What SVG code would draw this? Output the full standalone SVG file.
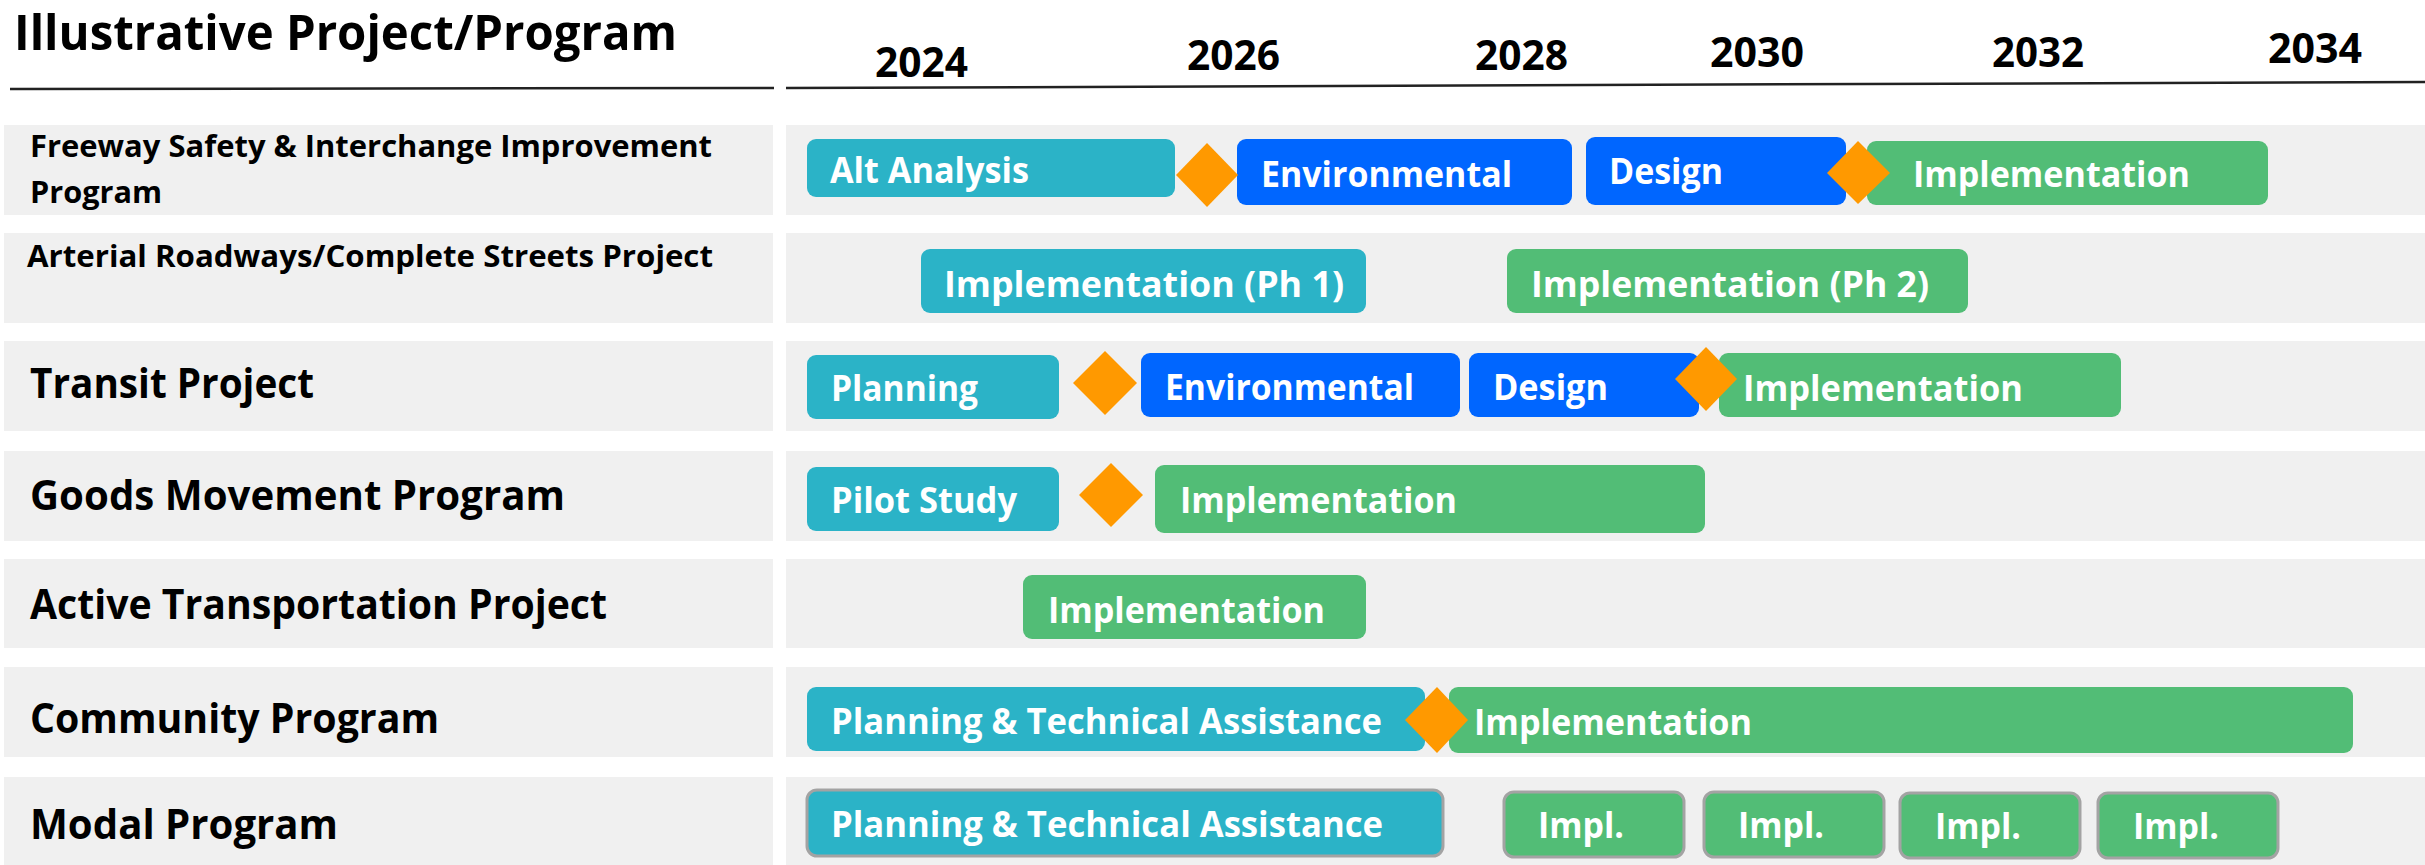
<svg xmlns="http://www.w3.org/2000/svg" width="2425" height="865" viewBox="0 0 2425 865">
<style>
  text { font-family: "Open Sans", "Liberation Sans", sans-serif; }
  .band { fill: #f0f0f0; }
  .title { font-size: 49px; font-weight: 700; fill: #000; }
  .lbl { font-size: 42px; font-weight: 700; fill: #000; }
  .lbls { font-size: 31px; font-weight: 700; fill: #000; }
  .yr { font-size: 42px; font-weight: 700; fill: #000; }
  .bt { font-size: 36px; font-weight: 700; fill: #fff; }
  .teal { fill: #2bb3c7; }
  .blue { fill: #0066ff; }
  .green { fill: #52bd76; }
  .ms { fill: #ff9900; }
  .edged { stroke: #a3a3a3; stroke-width: 3; }
  .rule { stroke: #222; stroke-width: 2.5; fill: none; }
</style>

<rect width="2425" height="865" fill="#ffffff"/>

<g id="header">
  <text class="title" x="14" y="50" textLength="663" lengthAdjust="spacingAndGlyphs">Illustrative Project/Program</text>
  <line class="rule" x1="10" y1="89" x2="774" y2="88"/>
  <line class="rule" x1="786" y1="88" x2="2425" y2="82"/>
  <text class="yr" x="875" y="77" textLength="93" lengthAdjust="spacingAndGlyphs">2024</text>
  <text class="yr" x="1187" y="70" textLength="93" lengthAdjust="spacingAndGlyphs">2026</text>
  <text class="yr" x="1475" y="70" textLength="93" lengthAdjust="spacingAndGlyphs">2028</text>
  <text class="yr" x="1710" y="67" textLength="94" lengthAdjust="spacingAndGlyphs">2030</text>
  <text class="yr" x="1992" y="67" textLength="92" lengthAdjust="spacingAndGlyphs">2032</text>
  <text class="yr" x="2268" y="63" textLength="94" lengthAdjust="spacingAndGlyphs">2034</text>
</g>

<g id="bands">
  <rect class="band" x="4" y="125" width="769" height="90"/>
  <rect class="band" x="786" y="125" width="1639" height="90"/>
  <rect class="band" x="4" y="233" width="769" height="90"/>
  <rect class="band" x="786" y="233" width="1639" height="90"/>
  <rect class="band" x="4" y="341" width="769" height="90"/>
  <rect class="band" x="786" y="341" width="1639" height="90"/>
  <rect class="band" x="4" y="451" width="769" height="90"/>
  <rect class="band" x="786" y="451" width="1639" height="90"/>
  <rect class="band" x="4" y="559" width="769" height="89"/>
  <rect class="band" x="786" y="559" width="1639" height="89"/>
  <rect class="band" x="4" y="667" width="769" height="90"/>
  <rect class="band" x="786" y="667" width="1639" height="90"/>
  <rect class="band" x="4" y="777" width="769" height="88"/>
  <rect class="band" x="786" y="777" width="1639" height="88"/>
</g>

<g id="row-freeway">
  <text class="lbls" x="30" y="157" textLength="682" lengthAdjust="spacingAndGlyphs">Freeway Safety &amp; Interchange Improvement</text>
  <text class="lbls" x="30" y="203" textLength="132" lengthAdjust="spacingAndGlyphs">Program</text>
  <rect class="teal" x="807" y="139" width="368" height="58" rx="9"/>
  <text class="bt" x="830" y="183" textLength="199" lengthAdjust="spacingAndGlyphs">Alt Analysis</text>
  <rect class="blue" x="1237" y="139" width="335" height="66" rx="9"/>
  <text class="bt" x="1261" y="187" textLength="251" lengthAdjust="spacingAndGlyphs">Environmental</text>
  <rect class="blue" x="1586" y="137" width="260" height="68" rx="9"/>
  <text class="bt" x="1609" y="184" textLength="114" lengthAdjust="spacingAndGlyphs">Design</text>
  <rect class="green" x="1867" y="141" width="401" height="64" rx="9"/>
  <text class="bt" x="1913" y="187" textLength="277" lengthAdjust="spacingAndGlyphs">Implementation</text>
  <polygon class="ms" points="1207,143 1238,175 1207,207 1176,175"/>
  <polygon class="ms" points="1858,141 1890,173 1858,204 1827,173"/>
</g>

<g id="row-arterial">
  <text class="lbls" x="27" y="267" textLength="686" lengthAdjust="spacingAndGlyphs">Arterial Roadways/Complete Streets Project</text>
  <rect class="teal" x="921" y="249" width="445" height="64" rx="9"/>
  <text class="bt" x="944" y="297" textLength="400" lengthAdjust="spacingAndGlyphs">Implementation (Ph 1)</text>
  <rect class="green" x="1507" y="249" width="461" height="64" rx="9"/>
  <text class="bt" x="1531" y="297" textLength="398" lengthAdjust="spacingAndGlyphs">Implementation (Ph 2)</text>
</g>

<g id="row-transit">
  <text class="lbl" x="30" y="398" textLength="284" lengthAdjust="spacingAndGlyphs">Transit Project</text>
  <rect class="teal" x="807" y="355" width="252" height="64" rx="9"/>
  <text class="bt" x="831" y="401" textLength="147" lengthAdjust="spacingAndGlyphs">Planning</text>
  <rect class="blue" x="1141" y="353" width="319" height="64" rx="9"/>
  <text class="bt" x="1165" y="400" textLength="249" lengthAdjust="spacingAndGlyphs">Environmental</text>
  <rect class="blue" x="1469" y="353" width="230" height="64" rx="9"/>
  <text class="bt" x="1493" y="400" textLength="115" lengthAdjust="spacingAndGlyphs">Design</text>
  <rect class="green" x="1719" y="353" width="402" height="64" rx="9"/>
  <text class="bt" x="1743" y="401" textLength="280" lengthAdjust="spacingAndGlyphs">Implementation</text>
  <polygon class="ms" points="1105,351 1137,383 1105,415 1073,383"/>
  <polygon class="ms" points="1706,347 1737,379 1706,411 1675,379"/>
</g>

<g id="row-goods">
  <text class="lbl" x="30" y="510" textLength="535" lengthAdjust="spacingAndGlyphs">Goods Movement Program</text>
  <rect class="teal" x="807" y="467" width="252" height="64" rx="9"/>
  <text class="bt" x="831" y="513" textLength="186" lengthAdjust="spacingAndGlyphs">Pilot Study</text>
  <rect class="green" x="1155" y="465" width="550" height="68" rx="9"/>
  <text class="bt" x="1180" y="513" textLength="277" lengthAdjust="spacingAndGlyphs">Implementation</text>
  <polygon class="ms" points="1111,463 1143,495 1111,527 1079,495"/>
</g>

<g id="row-active">
  <text class="lbl" x="30" y="619" textLength="577" lengthAdjust="spacingAndGlyphs">Active Transportation Project</text>
  <rect class="green" x="1023" y="575" width="343" height="64" rx="9"/>
  <text class="bt" x="1048" y="623" textLength="277" lengthAdjust="spacingAndGlyphs">Implementation</text>
</g>

<g id="row-community">
  <text class="lbl" x="30" y="733" textLength="409" lengthAdjust="spacingAndGlyphs">Community Program</text>
  <rect class="teal" x="807" y="687" width="618" height="64" rx="9"/>
  <text class="bt" x="831" y="734" textLength="551" lengthAdjust="spacingAndGlyphs">Planning &amp; Technical Assistance</text>
  <rect class="green" x="1449" y="687" width="904" height="66" rx="9"/>
  <text class="bt" x="1474" y="735" textLength="278" lengthAdjust="spacingAndGlyphs">Implementation</text>
  <polygon class="ms" points="1437,687 1468,720 1437,753 1405,720"/>
</g>

<g id="row-modal">
  <text class="lbl" x="30" y="839" textLength="308" lengthAdjust="spacingAndGlyphs">Modal Program</text>
  <rect class="teal edged" x="807" y="790" width="636" height="66" rx="10"/>
  <text class="bt" x="831" y="837" textLength="552" lengthAdjust="spacingAndGlyphs">Planning &amp; Technical Assistance</text>
  <rect class="green edged" x="1504" y="792" width="180" height="65" rx="10"/>
  <text class="bt" x="1538" y="838" textLength="86" lengthAdjust="spacingAndGlyphs">Impl.</text>
  <rect class="green edged" x="1704" y="792" width="180" height="65" rx="10"/>
  <text class="bt" x="1738" y="838" textLength="86" lengthAdjust="spacingAndGlyphs">Impl.</text>
  <rect class="green edged" x="1900" y="793" width="180" height="65" rx="10"/>
  <text class="bt" x="1935" y="839" textLength="86" lengthAdjust="spacingAndGlyphs">Impl.</text>
  <rect class="green edged" x="2098" y="793" width="180" height="65" rx="10"/>
  <text class="bt" x="2133" y="839" textLength="86" lengthAdjust="spacingAndGlyphs">Impl.</text>
</g>
</svg>
